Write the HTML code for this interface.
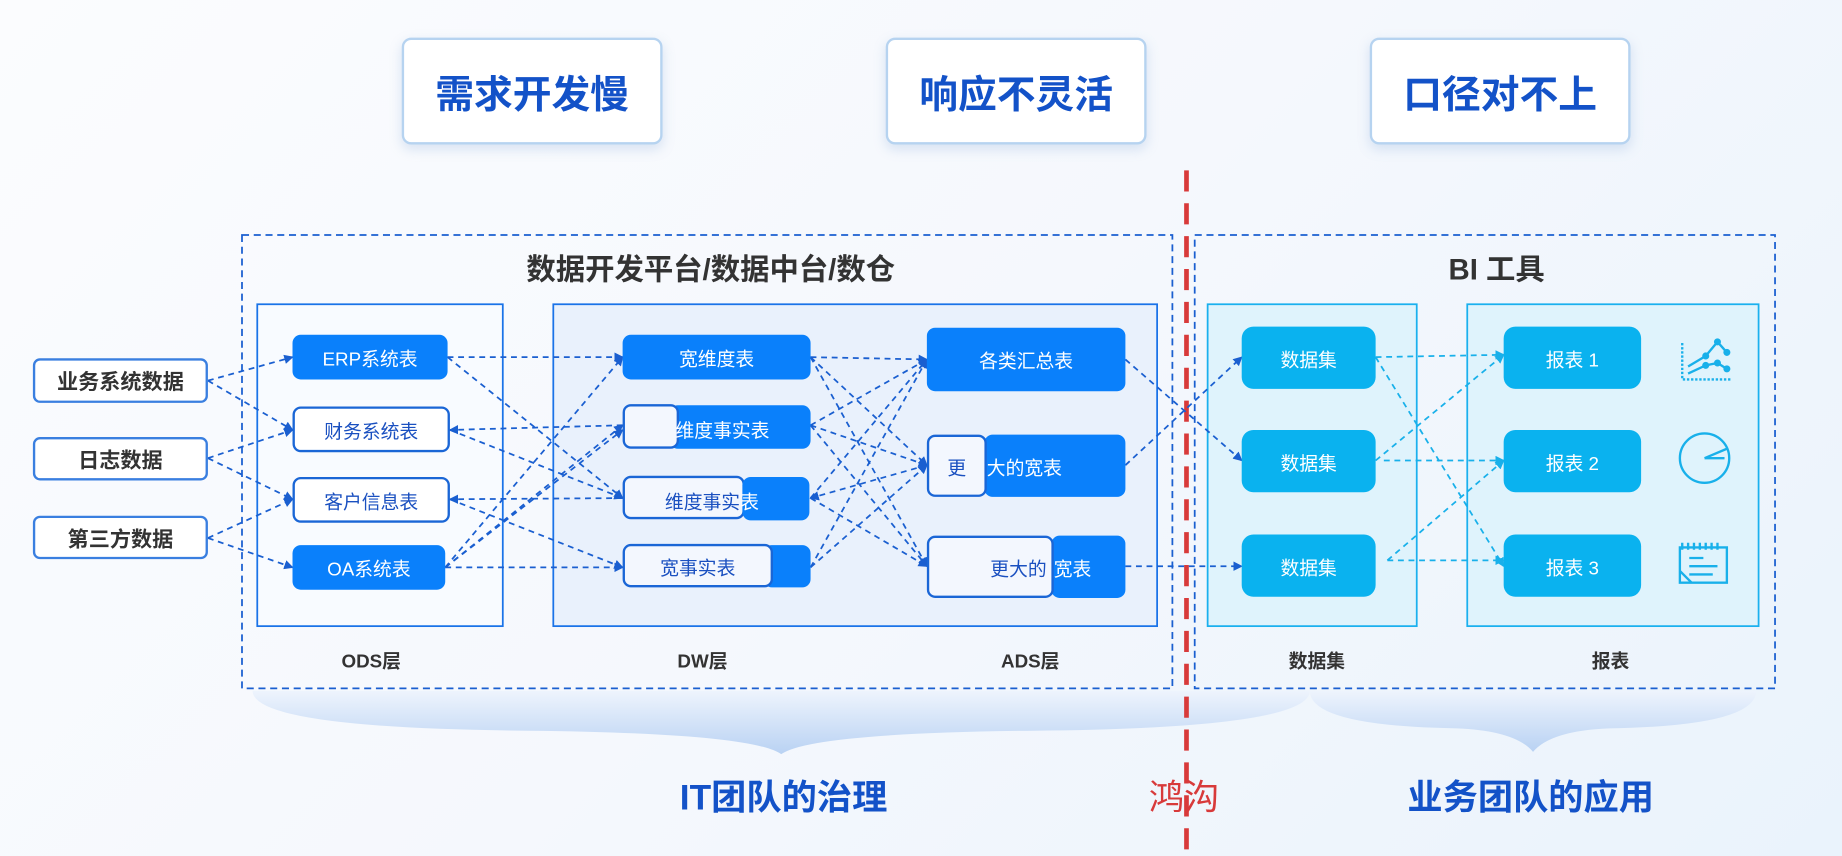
<!DOCTYPE html>
<html><head><meta charset="utf-8"><style>
*{margin:0;padding:0;box-sizing:border-box}
html,body{width:1842px;height:856px;overflow:hidden;background:#f4f8fd}
#w{position:absolute;left:0;top:0;width:1568px;height:729px;transform:scale(1.17474);transform-origin:0 0;
font-family:"Liberation Sans","Noto Sans CJK SC",sans-serif;background:linear-gradient(135deg,#fbfcfe 0%,#f5f8fd 50%,#eaf3fc 100%)}
.a{position:absolute}
.top{position:absolute;width:222px;height:91px;top:32px;background:#fff;border:2px solid #b6d3f0;border-radius:8px;box-shadow:0 4px 10px rgba(120,160,210,.25);display:flex;align-items:center;justify-content:center;font-size:33px;font-weight:bold;color:#1352c8}
.n{position:absolute;display:flex;align-items:center;justify-content:center;font-size:16px;border-radius:7px;white-space:nowrap}
.b{background:#0a80fb;color:#fff}
.wt{background:#fff;border:2px solid #1a66d6;color:#1a50c0}
.wl{background:#f3f7fe;border:2px solid #1a66d6}
.c{background:#0ab2ef;color:#fff;border-radius:10px}
.src{position:absolute;left:28px;width:149px;background:#fff;border:2px solid #3a7fe0;border-radius:6px;display:flex;align-items:center;justify-content:center;font-size:18px;font-weight:bold;color:#333}
.lab{position:absolute;font-size:16px;font-weight:bold;color:#333;transform:translateX(-50%)}
.big{position:absolute;font-size:30px;font-weight:bold;transform:translateX(-50%);white-space:nowrap}
</style></head><body><div id="w">
<div class="top" style="left:342px">需求开发慢</div>
<div class="top" style="left:754px">响应不灵活</div>
<div class="top" style="left:1166px">口径对不上</div>

<svg class="a" style="left:0;top:0" width="1568" height="729">
<defs>
<marker id="m" markerWidth="8" markerHeight="8" refX="7" refY="4" orient="auto" markerUnits="userSpaceOnUse"><path d="M0,0 L8,4 L0,8z" fill="#1a5fd0"/></marker>
<marker id="mc" markerWidth="8" markerHeight="8" refX="7" refY="4" orient="auto" markerUnits="userSpaceOnUse"><path d="M0,0 L8,4 L0,8z" fill="#18b0ea"/></marker>
<linearGradient id="cl" x1="0" y1="0" x2="0" y2="1"><stop offset="0" stop-color="#eef4fd"/><stop offset="1" stop-color="#b9d2f3"/></linearGradient>
</defs>
<path d="M215,588 Q215,620 450,622 Q640,624 665,642 Q690,624 880,622 Q1115,620 1115,588z" fill="url(#cl)"/>
<path d="M1115,588 Q1115,618 1240,620 Q1290,622 1305,640 Q1320,622 1370,620 Q1495,618 1495,588z" fill="url(#cl)"/>
<rect x="206" y="200" width="792" height="386" fill="none" stroke="#1a5fd0" stroke-width="1.5" stroke-dasharray="6,4"/>
<rect x="1017" y="200" width="494" height="386" fill="none" stroke="#1a5fd0" stroke-width="1.5" stroke-dasharray="6,4"/>
<rect x="219" y="259" width="209" height="274" fill="#f8fbff" stroke="#1a73e8" stroke-width="1.5"/>
<rect x="471" y="259" width="514" height="274" fill="#e9f1fc" stroke="#1a73e8" stroke-width="1.5"/>
<rect x="1028" y="259" width="178" height="274" fill="#dff3fc" stroke="#1ab0ee" stroke-width="1.5"/>
<rect x="1249" y="259" width="248" height="274" fill="#dff3fc" stroke="#1ab0ee" stroke-width="1.5"/>
<line x1="1010" y1="145" x2="1010" y2="729" stroke="#d83a3a" stroke-width="4" stroke-dasharray="18,10"/>
<g stroke="#1a5fd0" stroke-width="1.5" stroke-dasharray="5,4" fill="none" marker-end="url(#m)">
<path d="M177,324 L249,304"/><path d="M177,324 L249,366"/>
<path d="M177,390 L249,366"/><path d="M177,390 L249,425"/>
<path d="M177,458 L249,425"/><path d="M177,458 L249,483"/>
<path d="M381,304 L530,304"/><path d="M381,304 L530,424"/>
<path d="M530,362 L383,366"/><path d="M383,366 L530,424"/>
<path d="M530,424 L383,425"/><path d="M383,425 L530,483"/>
<path d="M379,483 L530,483"/><path d="M379,483 L530,304"/><path d="M379,483 L530,362"/><path d="M379,483 L530,366"/>
<path d="M690,304 L789,306"/><path d="M690,304 L789,396"/><path d="M690,304 L789,482"/>
<path d="M690,362 L789,306"/><path d="M690,362 L789,396"/><path d="M690,362 L789,482"/>
<path d="M789,396 L690,424"/><path d="M690,424 L789,306"/><path d="M690,424 L789,482"/>
<path d="M690,483 L789,306"/><path d="M690,483 L789,396"/>
<path d="M958,306 L1057,392"/><path d="M958,396 L1057,304"/><path d="M958,482 L1057,482"/>
</g>
<g stroke="#18b0ea" stroke-width="1.5" stroke-dasharray="5,4" fill="none" marker-end="url(#mc)">
<path d="M1171,304 L1280,302"/><path d="M1171,304 L1280,482"/>
<path d="M1171,392 L1280,302"/><path d="M1178,392 L1280,392"/>
<path d="M1181,477 L1280,392"/><path d="M1181,477 L1280,477"/>
</g>
<g stroke="#18b0ea" stroke-width="2" fill="none">
<path d="M1432,292 V323 H1474" stroke-dasharray="2,1.5"/>
<polyline points="1437,312 1452,303 1462,291 1470,300"/>
<polyline points="1437,318 1452,311 1462,309 1470,314"/>
<circle cx="1451" cy="390" r="21"/><path d="M1451,390 L1470,382 M1451,390 L1468,390"/>
<rect x="1430" y="466" width="40" height="30"/><path d="M1432,462 V468 M1437,462 V468 M1442,462 V468 M1447,462 V468 M1452,462 V468 M1457,462 V468 M1462,462 V468 M1438,475 H1450 M1438,482 H1462 M1438,489 H1458 M1430,486 L1440,496"/>
</g>
<g fill="#18b0ea"><circle cx="1452" cy="303" r="3"/><circle cx="1462" cy="291" r="3"/><circle cx="1470" cy="300" r="3"/><circle cx="1452" cy="311" r="3"/><circle cx="1462" cy="309" r="3"/><circle cx="1470" cy="314" r="3"/></g>
</svg>

<div class="a" style="left:605px;top:210px;transform:translateX(-50%);font-size:25px;font-weight:bold;color:#333;white-space:nowrap">数据开发平台/数据中台/数仓</div>
<div class="a" style="left:1274px;top:210px;transform:translateX(-50%);font-size:25px;font-weight:bold;color:#333;white-space:nowrap">BI 工具</div>

<div class="src" style="top:305px;height:38px">业务系统数据</div>
<div class="src" style="top:372px;height:37px">日志数据</div>
<div class="src" style="top:439px;height:37px">第三方数据</div>

<div class="n b" style="left:249px;top:285px;width:132px;height:38px">ERP系统表</div>
<div class="n wt" style="left:249px;top:346px;width:134px;height:39px">财务系统表</div>
<div class="n wt" style="left:249px;top:406px;width:134px;height:39px">客户信息表</div>
<div class="n b" style="left:249px;top:464px;width:130px;height:38px">OA系统表</div>

<div class="n b" style="left:530px;top:285px;width:160px;height:38px">宽维度表</div>
<div class="n b" style="left:570px;top:345px;width:120px;height:37px"></div>
<div class="n wl" style="left:530px;top:344px;width:48px;height:38px"></div>
<div class="a" style="left:575px;top:353px;font-size:16px;color:#fff">维度事实表</div>
<div class="n wl" style="left:530px;top:405px;width:104px;height:37px"></div>
<div class="n b" style="left:632px;top:406px;width:57px;height:37px"></div>
<div class="a" style="left:566px;top:414px;font-size:16px;color:#1a50c0;white-space:nowrap">维度事实<span style="color:#fff">表</span></div>
<div class="n b" style="left:650px;top:464px;width:40px;height:36px"></div>
<div class="n wl" style="left:530px;top:463px;width:128px;height:37px;color:#1a50c0">宽事实表</div>

<div class="n b" style="left:789px;top:279px;width:169px;height:54px">各类汇总表</div>
<div class="n b" style="left:838px;top:370px;width:120px;height:53px;justify-content:flex-start;padding-left:2px">大的宽表</div>
<div class="n wl" style="left:789px;top:370px;width:51px;height:53px;color:#1a50c0">更</div>
<div class="n b" style="left:895px;top:456px;width:63px;height:53px;justify-content:flex-start;padding-left:2px">宽表</div>
<div class="n wl" style="left:789px;top:456px;width:108px;height:53px;justify-content:flex-end;padding-right:4px;color:#1a50c0">更大的</div>

<div class="n c" style="left:1057px;top:278px;width:114px;height:53px">数据集</div>
<div class="n c" style="left:1057px;top:366px;width:114px;height:53px">数据集</div>
<div class="n c" style="left:1057px;top:455px;width:114px;height:53px">数据集</div>
<div class="n c" style="left:1280px;top:278px;width:117px;height:53px">报表 1</div>
<div class="n c" style="left:1280px;top:366px;width:117px;height:53px">报表 2</div>
<div class="n c" style="left:1280px;top:455px;width:117px;height:53px">报表 3</div>

<div class="lab" style="left:316px;top:549px">ODS层</div>
<div class="lab" style="left:598px;top:549px">DW层</div>
<div class="lab" style="left:877px;top:549px">ADS层</div>
<div class="lab" style="left:1121px;top:549px">数据集</div>
<div class="lab" style="left:1371px;top:549px">报表</div>

<div class="big" style="left:667px;top:654px;color:#1352c8">IT团队的治理</div>
<div class="big" style="left:1008px;top:654px;color:#d83a3a;font-weight:normal">鸿沟</div>
<div class="big" style="left:1303px;top:654px;color:#1352c8">业务团队的应用</div>
</div></body></html>
